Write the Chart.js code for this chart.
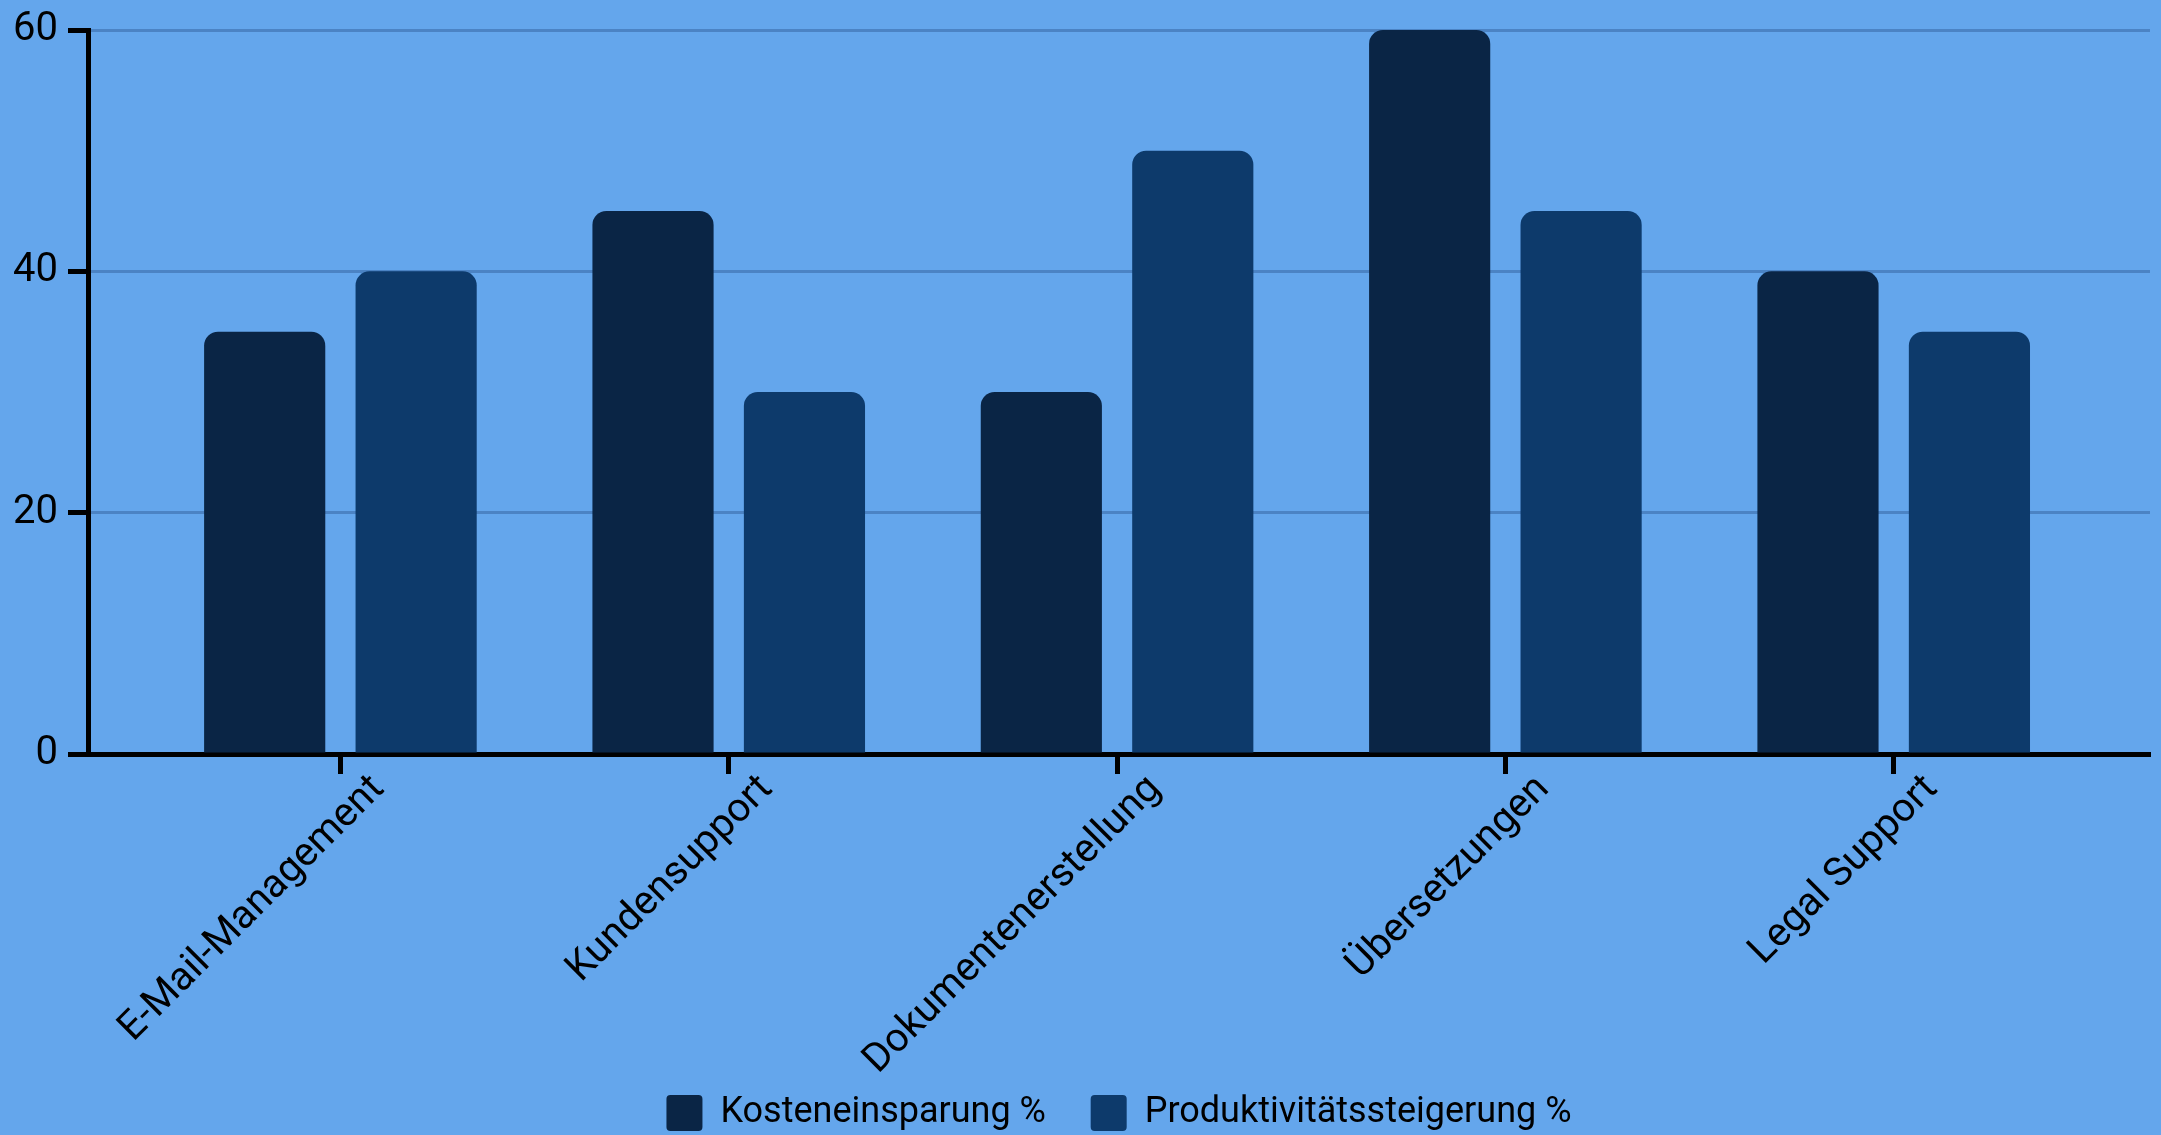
<!DOCTYPE html>
<html>
<head>
<meta charset="utf-8">
<title>KI-Einsatz: Kosten und Produktivität</title>
<script src="https://cdn.jsdelivr.net/npm/chart.js@4.4.1/dist/chart.umd.min.js"></script>
<style>
  html, body { margin: 0; padding: 0; background: #64a6ec; }
  canvas { display: block; }
</style>
</head>
<body>
<canvas id="usageChart" width="2161" height="1135"></canvas>
<script>
// values
const categories = ['E-Mail-Management', 'Kundensupport', 'Dokumentenerstellung', 'Übersetzungen', 'Legal Support'];
const kostenWerte = [35, 45, 30, 60, 40];
const produktivWerte = [40, 30, 50, 45, 35];
const seriesNames = ['Kosteneinsparung %', 'Produktivitätssteigerung %'];
const seriesColors = ['#0a2545', '#0d3a6b'];
const yMax = 60;
const yStep = 20;

const gridColor = '#4b83c4';
const fontFamily = 'Roboto, "Noto Sans", sans-serif';

/**
 * Turn a value list into {x, y} points on the category index
 */
function toPoints(values) {
  return values.map((v, i) => ({ x: i, y: v }));
}

/**
 * Default legend items, with an em space after all but the last one
 */
function legendLabels(chart) {
  const items = Chart.defaults.plugins.legend.labels.generateLabels(chart);
  return items.map((item, i) => (i < items.length - 1 ? { ...item, text: item.text + '\u2003' } : item));
}

function renderChart() {
  const ctx = document.getElementById('usageChart');

  new Chart(ctx, {
    type: 'bar',
    data: {
      datasets: [
        {
          label: seriesNames[0],
          data: toPoints(kostenWerte),
          backgroundColor: seriesColors[0],
          borderRadius: 14,
          borderSkipped: 'start'
        },
        {
          label: seriesNames[1],
          data: toPoints(produktivWerte),
          backgroundColor: seriesColors[1],
          borderRadius: 14,
          borderSkipped: 'start'
        }
      ]
    },
    options: {
      responsive: false,
      animation: false,
      layout: { padding: { top: 0, right: 11, left: 0, bottom: -6 } },
      datasets: {
        bar: { categoryPercentage: 0.78, barPercentage: 0.8 }
      },
      scales: {
        x: {
          type: 'linear',
          offset: false,
          min: -0.65,
          max: categories.length - 1 + 0.66,
          afterFit: (scale) => { scale.height = 333; },
          border: { display: true, color: '#000', width: 5 },
          grid: {
            display: true,
            offset: false,
            drawOnChartArea: false,
            drawTicks: true,
            tickLength: 20,
            tickWidth: 5,
            tickColor: '#000'
          },
          ticks: {
            stepSize: 1,
            includeBounds: false,
            autoSkip: false,
            minRotation: 45,
            maxRotation: 45,
            labelOffset: 38,
            padding: -8,
            color: '#000',
            font: { family: fontFamily, size: 40 },
            callback: (value) => categories[value]
          }
        },
        y: {
          min: 0,
          max: yMax,
          afterFit: (scale) => { scale.width = 88; },
          border: { display: true, color: '#000', width: 5 },
          grid: {
            color: gridColor,
            lineWidth: 3,
            tickLength: 20,
            tickWidth: 5,
            tickColor: '#000'
          },
          ticks: {
            stepSize: yStep,
            padding: 10,
            color: '#000',
            font: { family: fontFamily, size: 40, lineHeight: 1 }
          }
        }
      },
      plugins: {
        legend: {
          position: 'bottom',
          fullSize: false,
          labels: {
            boxWidth: 36,
            boxHeight: 36,
            padding: 8,
            useBorderRadius: true,
            borderRadius: 4,
            color: '#000',
            font: { family: fontFamily, size: 36 },
            generateLabels: legendLabels
          }
        },
        tooltip: { enabled: false }
      }
    }
  });
}

document.addEventListener('DOMContentLoaded', renderChart);
</script>
</body>
</html>
